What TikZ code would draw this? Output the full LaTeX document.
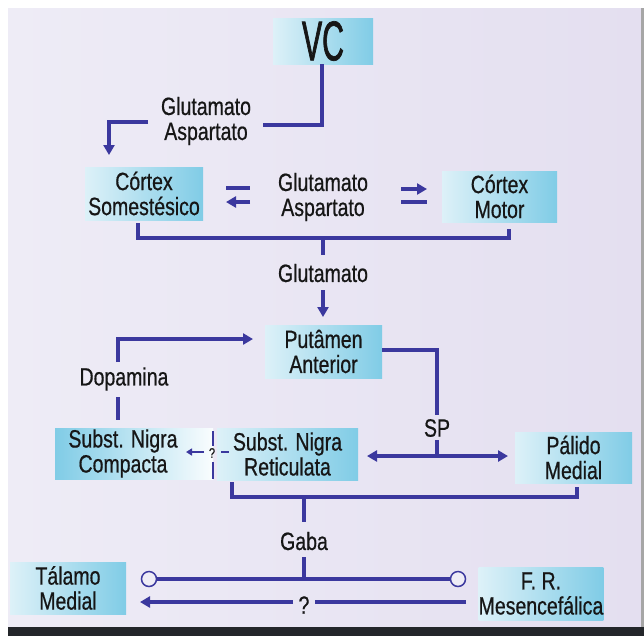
\documentclass[tikz,border=0pt]{standalone}
\usepackage{fontspec}
\usetikzlibrary{arrows.meta}
\newfontfamily\labfont[FakeStretch=0.78,FakeBold=0.6]{Liberation Sans}
\newfontfamily\vcfont[FakeStretch=0.54,FakeBold=1.2]{Liberation Sans}
\definecolor{bgm}{HTML}{E4DFF0}
\definecolor{bgl}{HTML}{EEECF6}
\definecolor{lnc}{HTML}{3B389E}
\definecolor{cyd}{HTML}{80CCE6}
\definecolor{cyl}{HTML}{DDF1F8}
\definecolor{txt}{HTML}{161616}
\definecolor{band}{HTML}{23262A}
\tikzset{
  box/.style={left color=cyl, right color=cyd, inner sep=0pt, text=txt,
    font=\labfont\fontsize{25}{25}\selectfont, align=center},
  boxrev/.style={box, left color=cyd, right color=white!85!cyl},
  lab/.style={inner sep=0pt, text=txt, font=\labfont\fontsize{25}{25}\selectfont, align=center},
  conn/.style={draw=lnc, line width=3.3pt},
  tip/.style={-{Triangle[length=10pt,width=11pt]}},
  tips/.style={{Triangle[length=10pt,width=11pt]}-{Triangle[length=10pt,width=11pt]}},
  smalltip/.style={-{Triangle[length=6pt,width=7pt]}},
  ring/.style={circle, draw=lnc, line width=1.5pt, fill=bgl, minimum size=15pt, inner sep=0pt}
}
\begin{document}
\begin{tikzpicture}[x=1pt,y=-1pt]
\useasboundingbox (0,0) rectangle (644,638);
% background
\fill[white] (0,0) rectangle (644,638);
\shade[left color=bgl, middle color=bgm, right color=bgm] (8,8) rectangle (641,627);
\fill[black!35] (641,8) rectangle (644,627);
\fill[band] (8,627) rectangle (644,636);

% boxes
\node[box, minimum width=100pt, minimum height=46pt, font=\vcfont\fontsize{56}{56}\selectfont] (vc) at (323,41) {VC};
\node[box, minimum width=118pt, minimum height=53pt] (som) at (144,193.5) {Córtex\\Somestésico};
\node[box, minimum width=115pt, minimum height=51pt] (mot) at (499.5,196.5) {Córtex\\Motor};
\node[box, minimum width=117pt, minimum height=53pt] (put) at (323.5,351.5) {Putâmen\\Anterior};
\node[boxrev, minimum width=158pt, minimum height=51pt] (snc) at (134,453.5) {\hspace*{-22pt}Subst. Nigra\\\hspace*{-22pt}Compacta};
\node[box, minimum width=141pt, minimum height=52pt] (snr) at (287.5,454) {Subst. Nigra\\Reticulata};
\node[box, minimum width=117pt, minimum height=51pt] (pal) at (573.5,457.5) {Pálido\\Medial};
\node[box, minimum width=116pt, minimum height=52pt] (tal) at (68,588) {Tálamo\\Medial};
\node[box, minimum width=122pt, minimum height=53pt] (frm) at (541,593.5) {F. R.\\Mesencefálica};

% labels
\node[lab] (l1) at (206,121) {Glutamato\\Aspartato};
\node[lab] (l2) at (323,197) {Glutamato\\Aspartato};
\node[lab] (l3) at (323,273) {Glutamato};
\node[lab] (l4) at (124,379) {Dopamina};
\node[lab] (l5) at (437,428) {SP};
\node[lab] (l6) at (304,541) {Gaba};
\node[lab] (l7) at (304,605) {?};
\node[lab, font=\labfont\fontsize{14}{14}\selectfont] (l8) at (212,453) {?};

% coordinates
\coordinate (a1) at (263,125);
\coordinate (a2) at (148,122);
\coordinate (a3) at (109,155);
\coordinate (b1) at (226,188); \coordinate (b2) at (250,188);
\coordinate (b3) at (250,202); \coordinate (b4) at (226,202);
\coordinate (b5) at (401,189); \coordinate (b6) at (427,189);
\coordinate (b7) at (401,202); \coordinate (b8) at (427,202);
\coordinate (c1) at (138,223);
\coordinate (c2) at (509,238);
\coordinate (c3) at (509,229);
\coordinate (c4) at (323,238);
\coordinate (c5) at (323,255);
\coordinate (c6) at (323,290);
\coordinate (c7) at (323,317);
\coordinate (d1) at (118,362);
\coordinate (d2) at (253,339);
\coordinate (d3) at (118,397);
\coordinate (d4) at (118,420);
\coordinate (e1) at (437,415);
\coordinate (e2) at (437,440);
\coordinate (e3) at (437,456);
\coordinate (e4) at (367,456);
\coordinate (e5) at (508,456);
\coordinate (f1) at (213,431); \coordinate (f2) at (213,446);
\coordinate (f3) at (213,462); \coordinate (f4) at (213,479);
\coordinate (f5) at (221,452); \coordinate (f6) at (229,452);
\coordinate (f7) at (204,452); \coordinate (f8) at (186,452);
\coordinate (g1) at (232,482);
\coordinate (g2) at (577,497);
\coordinate (g3) at (577,487);
\coordinate (g4) at (304,497);
\coordinate (g5) at (304,522);
\coordinate (g6) at (304,557);
\coordinate (g7) at (304,579);
\coordinate (h1) at (293,602);
\coordinate (h2) at (140,602);
\coordinate (h3) at (466,602);
\coordinate (h4) at (315,602);

% connectors
\draw[conn] (vc.south -| 322,0) |- (a1);
\draw[conn, tip] (a2) -| (a3);
\draw[conn] (b1) -- (b2);
\draw[conn, tip] (b3) -- (b4);
\draw[conn, tip] (b5) -- (b6);
\draw[conn] (b7) -- (b8);
\draw[conn] (c1) |- (c2) -- (c3);
\draw[conn] (c4) -- (c5);
\draw[conn, tip] (c6) -- (c7);
\draw[conn, tip] (d1) |- (d2);
\draw[conn] (d3) -- (d4);
\draw[conn] (put.east |- 0,350) -| (e1);
\draw[conn] (e2) -- (e3);
\draw[conn, tips] (e4) -- (e5);
\draw[conn, line width=2.8pt] (f1) -- (f2);
\draw[conn, line width=2.8pt] (f3) -- (f4);
\draw[conn, line width=2.8pt] (f5) -- (f6);
\draw[conn, line width=2.6pt, smalltip] (f7) -- (f8);
\draw[conn] (g1) |- (g2) -- (g3);
\draw[conn] (g4) -- (g5);
\draw[conn] (g6) -- (g7);
\node[ring] (r1) at (149,579) {};
\node[ring] (r2) at (458,579) {};
\draw[conn] (r1.east) -- (r2.west);
\draw[conn, tip] (h1) -- (h2);
\draw[conn] (h3) -- (h4);
\end{tikzpicture}
\end{document}
